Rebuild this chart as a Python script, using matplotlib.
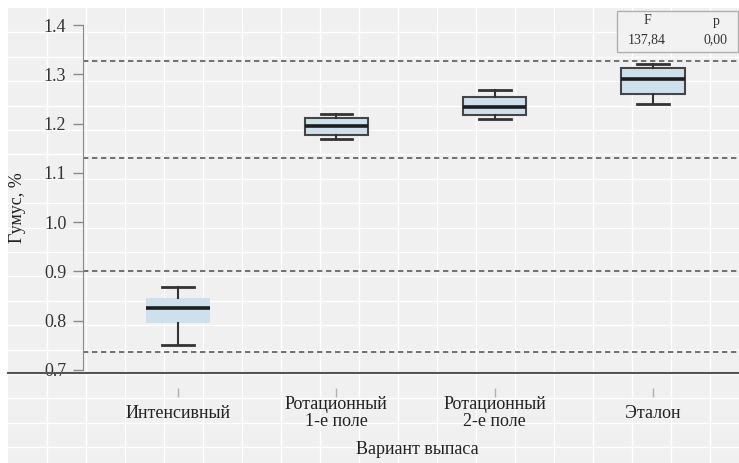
import matplotlib
matplotlib.use("Agg")
import matplotlib.pyplot as plt
from matplotlib.lines import Line2D
from matplotlib.patches import Rectangle

plt.rcParams.update({
    "font.family": ["Liberation Serif", "DejaVu Serif"],
    "font.size": 13,
})

# Гумус, % по вариантам выпаса
categories = ["Интенсивный", "Ротационный\n1-е поле", "Ротационный\n2-е поле", "Эталон"]
whisker_low = [0.750, 1.169, 1.209, 1.240]
q1 = [0.796, 1.177, 1.217, 1.261]
median = [0.826, 1.195, 1.234, 1.290]
q3 = [0.846, 1.211, 1.254, 1.312]
whisker_high = [0.869, 1.219, 1.268, 1.320]

# reference levels (dashed)
levels = [1.327, 1.130, 0.900, 0.737]

# ANOVA summary
stat_names = ["F", "p"]
stat_values = ["137,84", "0,00"]

W, H = 739, 463
fig = plt.figure(figsize=(W / 100, H / 100), dpi=100, facecolor="white")


def px(x, y):
    """pixel (from top-left) -> figure fraction"""
    return x / W, 1 - y / H


# grey panel with white grid behind everything
x0, y0 = px(8, H)
x1, y1 = px(W, 8)
fig.add_artist(Rectangle((x0, y0), x1 - x0, y1 - y0, transform=fig.transFigure,
                         facecolor="#f0f0f0", edgecolor="none", zorder=-10))
gx = 8 + 39
while gx < W:
    fx, _ = px(gx, 0)
    fig.add_artist(Line2D([fx, fx], [y0, y1], transform=fig.transFigure,
                          color="white", lw=1.0, zorder=-9))
    gx += 39
gy = 8 + 24.4
while gy < H:
    _, fy = px(0, gy)
    fig.add_artist(Line2D([x0, x1], [fy, fy], transform=fig.transFigure,
                          color="white", lw=1.0, zorder=-9))
    gy += 24.4

# axes
left, top = 83, 25
bottom = 370
ax = fig.add_axes([left / W, (H - bottom) / H, (W - left) / W, (bottom - top) / H])
ax.set_facecolor("none")

stats = []
for i in range(len(categories)):
    stats.append({"med": median[i], "q1": q1[i], "q3": q3[i],
                  "whislo": whisker_low[i], "whishi": whisker_high[i],
                  "fliers": []})

bp = ax.bxp(stats, positions=range(len(categories)), widths=0.4,
            patch_artist=True, showfliers=False,
            boxprops=dict(facecolor="#cfe0ed", edgecolor="#454545", linewidth=1.5),
            medianprops=dict(color="#1e1e1e", linewidth=2.6),
            whiskerprops=dict(color="#333333", linewidth=1.5),
            capprops=dict(color="#333333", linewidth=2.0))
bp["boxes"][0].set_edgecolor("none")

for lv in levels:
    ax.axhline(lv, color="#5a5a5a", lw=1.2, ls=(0, (3.2, 2.2)), zorder=1)

ax.set_ylim(0.7, 1.4)
ax.set_xlim(-0.6, 3.543)
ax.set_yticks([0.7, 0.8, 0.9, 1.0, 1.1, 1.2, 1.3, 1.4])
ax.set_yticklabels([f"{v:.1f}" for v in ax.get_yticks()])
ax.set_xticks(range(len(categories)))
ax.set_xticklabels(categories)

for s in ["top", "right"]:
    ax.spines[s].set_visible(False)
ax.spines["left"].set_color("#8a8a8a")
ax.spines["bottom"].set_position(("outward", 13))
ax.spines["bottom"].set_visible(False)

ax.tick_params(axis="y", length=7, width=1, color="#8a8a8a", pad=5,
               labelcolor="#333333", labelsize=13)
ax.tick_params(axis="x", length=6.5, width=1, color="#b0b0b0", pad=11.5,
               labelcolor="#222222", labelsize=13)
for lab in ax.get_xticklabels():
    lab.set_va("center")
    lab.set_multialignment("center")
    lab.set_linespacing(1.05)

ax.set_ylabel("Гумус, %", fontsize=13, color="#222222")
ax.yaxis.set_label_coords((17 - left) / (W - left), 0.47)
ax.yaxis.label.set_va("center")
ax.set_xlabel("Вариант выпаса", fontsize=13, color="#222222")
ax.xaxis.set_label_coords((417 - left) / (W - left), -(450 - bottom) / (bottom - top))
ax.xaxis.label.set_va("center")

# dark baseline across the panel
_, fy = px(0, 373)
fig.add_artist(Line2D([x0, x1], [fy, fy], transform=fig.transFigure,
                      color="#555555", lw=1.5))

# F / p summary box
bx0, by0 = px(617, 52)
bx1, by1 = px(738, 11)
fig.add_artist(Rectangle((bx0, by0), bx1 - bx0, by1 - by0, transform=fig.transFigure,
                         facecolor="#f2f2f2", edgecolor="#b0b0b0", lw=1.0))
for cx, name, val in zip([647, 716], stat_names, stat_values):
    fx, fy1 = px(cx, 21)
    fig.text(fx, fy1, name, ha="center", va="center", fontsize=10, color="#333333")
    fx, fy2 = px(cx, 40)
    fig.text(fx, fy2, val, ha="center", va="center", fontsize=10, color="#333333")

fig.savefig("out.png", dpi=100)
